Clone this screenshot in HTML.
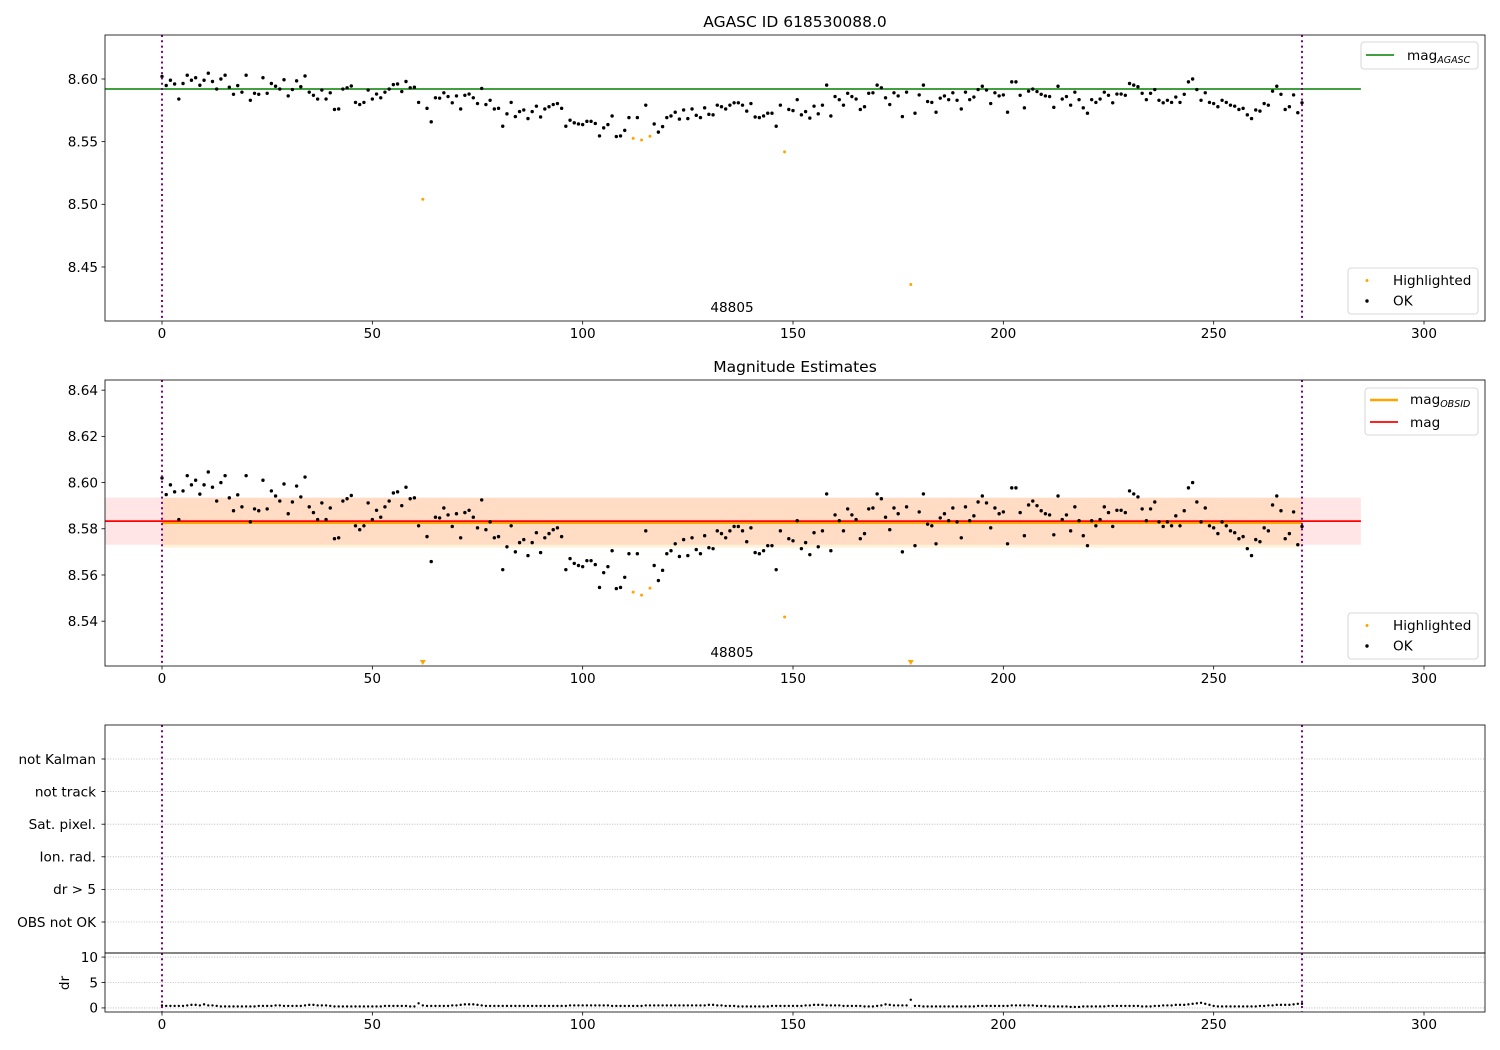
<!DOCTYPE html>
<html><head><meta charset="utf-8"><title>AGASC 618530088 magnitude estimates</title>
<style>
html,body{margin:0;padding:0;background:#fff;}
svg{display:block;font-family:"DejaVu Sans","Liberation Sans",sans-serif;}
</style></head>
<body>
<svg id="fig" width="1500" height="1050" viewBox="0 0 1500 1050" xmlns="http://www.w3.org/2000/svg"></svg>
<script>
const mags = [8.602,8.5948,8.599,8.596,8.584,8.5964,8.603,8.599,8.601,8.595,
8.599,8.6046,8.598,8.592,8.600,8.603,8.5934,8.5878,8.5947,8.5895,
8.603,8.583,8.5886,8.5878,8.601,8.5886,8.5964,8.5942,8.592,8.5994,
8.5865,8.5916,8.5985,8.5938,8.6024,8.5895,8.587,8.584,8.5912,8.584,
8.589,8.5757,8.5761,8.592,8.593,8.5944,8.5813,8.5796,8.5813,8.5912,
8.584,8.588,8.585,8.5895,8.592,8.5955,8.596,8.590,8.598,8.593,
8.5934,8.5813,8.504,8.5766,8.5658,8.585,8.5847,8.589,8.586,8.581,
8.5865,8.5761,8.587,8.588,8.585,8.5804,8.5925,8.5796,8.583,8.5761,
8.5766,8.5623,8.5722,8.5813,8.570,8.574,8.5753,8.5684,8.574,8.5783,
8.5697,8.5761,8.5779,8.5796,8.5804,8.5766,8.5623,8.5671,8.565,8.5641,
8.5636,8.5662,8.5662,8.5645,8.5546,8.561,8.5636,8.5705,8.5541,8.5546,
8.559,8.5692,8.5526,8.5692,8.5513,8.5791,8.5543,8.5641,8.5576,8.562,
8.5692,8.5705,8.5735,8.568,8.5753,8.5684,8.5761,8.571,8.5692,8.577,
8.5718,8.5714,8.5791,8.5779,8.5761,8.5791,8.581,8.581,8.5791,8.5744,
8.5804,8.5697,8.5692,8.5705,8.5727,8.5727,8.5623,8.5791,8.5418,8.5757,
8.5748,8.5835,8.5714,8.574,8.5688,8.5783,8.5722,8.5791,8.5951,8.5705,
8.586,8.5835,8.5791,8.5886,8.586,8.584,8.5757,8.5779,8.5886,8.589,
8.5951,8.593,8.585,8.5796,8.589,8.5865,8.570,8.5895,8.436,8.5727,
8.5873,8.5951,8.582,8.5813,8.5735,8.5847,8.5865,8.5835,8.589,8.583,
8.5761,8.5895,8.5835,8.5856,8.5916,8.5942,8.5912,8.5804,8.589,8.5865,
8.5873,8.5735,8.5977,8.5977,8.587,8.577,8.5903,8.592,8.590,8.5878,
8.5865,8.586,8.5774,8.5942,8.584,8.586,8.5791,8.5895,8.5835,8.577,
8.5727,8.5835,8.5813,8.584,8.5895,8.587,8.581,8.588,8.588,8.587,
8.5964,8.5951,8.5938,8.5886,8.5835,8.5886,8.5916,8.583,8.581,8.583,
8.5813,8.5856,8.5813,8.5878,8.5977,8.600,8.5916,8.583,8.589,8.5813,
8.5804,8.5779,8.583,8.5813,8.5791,8.5783,8.5757,8.5766,8.5714,8.5684,
8.5753,8.5744,8.5804,8.5791,8.5903,8.5942,8.5878,8.5757,8.5779,8.5873,
8.5731,8.581];
const highlightedIdx = [62,112,114,116,148,178];
const drVals = [0.5,0.4,0.4,0.4,0.4,0.4,0.5,0.6,0.6,0.5,
0.7,0.5,0.5,0.4,0.3,0.3,0.3,0.3,0.3,0.3,
0.3,0.3,0.3,0.4,0.4,0.4,0.4,0.5,0.5,0.4,
0.4,0.4,0.4,0.4,0.5,0.6,0.6,0.5,0.5,0.5,
0.4,0.3,0.3,0.3,0.3,0.3,0.3,0.3,0.3,0.3,
0.3,0.3,0.3,0.4,0.4,0.4,0.4,0.4,0.4,0.3,
0.3,0.9,0.5,0.4,0.4,0.4,0.4,0.4,0.4,0.5,
0.5,0.6,0.7,0.7,0.7,0.6,0.5,0.4,0.4,0.4,
0.4,0.4,0.4,0.4,0.4,0.4,0.4,0.4,0.4,0.4,
0.4,0.4,0.4,0.4,0.4,0.4,0.4,0.5,0.5,0.5,
0.5,0.5,0.5,0.5,0.5,0.5,0.5,0.4,0.4,0.4,
0.4,0.4,0.4,0.4,0.4,0.5,0.5,0.5,0.5,0.5,
0.5,0.5,0.5,0.5,0.5,0.5,0.5,0.5,0.5,0.5,
0.6,0.6,0.5,0.5,0.4,0.4,0.4,0.3,0.3,0.3,
0.3,0.3,0.3,0.3,0.3,0.4,0.4,0.4,0.4,0.4,
0.4,0.4,0.4,0.5,0.5,0.6,0.6,0.6,0.5,0.5,
0.5,0.5,0.4,0.4,0.4,0.4,0.4,0.3,0.3,0.3,
0.4,0.5,0.7,0.6,0.5,0.5,0.5,0.5,1.6,0.4,
0.4,0.3,0.3,0.3,0.3,0.3,0.3,0.3,0.3,0.3,
0.3,0.3,0.3,0.3,0.4,0.4,0.4,0.4,0.4,0.4,
0.4,0.4,0.5,0.5,0.5,0.5,0.5,0.5,0.4,0.4,
0.4,0.3,0.3,0.3,0.3,0.3,0.2,0.2,0.2,0.3,
0.3,0.3,0.3,0.3,0.3,0.4,0.4,0.4,0.4,0.4,
0.4,0.4,0.4,0.3,0.3,0.3,0.4,0.4,0.5,0.5,
0.5,0.6,0.6,0.6,0.7,0.8,0.9,1.0,0.8,0.6,
0.4,0.3,0.3,0.3,0.3,0.3,0.3,0.3,0.3,0.3,
0.3,0.4,0.4,0.5,0.5,0.6,0.6,0.6,0.6,0.7,
0.8,0.8];
const xTicks = [0,50,100,150,200,250,300];
const y1Ticks = [8.45,8.50,8.55,8.60];
const y2Ticks = [8.54,8.56,8.58,8.60,8.62,8.64];
const flagLabels = ["OBS not OK","dr > 5","Ion. rad.","Sat. pixel.","not track","not Kalman"];
const drTicks = [0,5,10];
const magAgasc = [8.592];
const magObsid = [8.5826];
const magMean = [8.5833];
const magBandLo = [8.5731];
const magBandHi = [8.5935];
const obsBandLo = [8.5718];
const obsBandHi = [8.5934];
const obsLimits = [0,271];
const lineExtent = [285];
const obsidLabel = "48805";

const NS = "http://www.w3.org/2000/svg";
const svg = document.getElementById('fig');
const FS = 13.6;
function el(tag, attrs, parent, text){
  const e = document.createElementNS(NS, tag);
  for (const k in attrs) e.setAttribute(k, attrs[k]);
  if (text !== undefined) e.textContent = text;
  (parent||svg).appendChild(e);
  return e;
}
const X0 = 105, X1 = 1485, XMIN = -13.55, XMAX = 314.5;
const sx = v => X0 + (v - XMIN) / (XMAX - XMIN) * (X1 - X0);
function mkY(top, bot, vmin, vmax){ return v => bot - (v - vmin) / (vmax - vmin) * (bot - top); }
const P1 = {top:35, bot:321, y: mkY(35,321,8.4069,8.6351)};
const P2 = {top:380, bot:666, y: mkY(380,666,8.5206,8.6444)};
const P3 = {top:725, bot:953};
const P4 = {top:953, bot:1012, y: mkY(953,1012,-0.8,10.8)};
const fmt2 = v => v.toFixed(2);

function xAxis(p, g){
  xTicks.forEach(t=>{
    const x = sx(t);
    const tk = el('line',{x1:x,x2:x,y1:p.bot,y2:p.bot+3.5,stroke:'#000','stroke-width':0.8},g);
    
    
    const lb = el('text',{x:x,y:p.bot+17,'text-anchor':'middle','font-size':FS},g,String(t));
    
    
  });
}
function yAxis(p, ticks, f, g, grid){
  ticks.forEach(t=>{
    const y = p.y(t);
    if (grid){
      const gl = el('line',{x1:X0,x2:X1,y1:y,y2:y,stroke:'#b0b0b0','stroke-width':0.8,'stroke-dasharray':'1,1.6'},g);
      
      
    }
    const tk = el('line',{x1:X0-3.5,x2:X0,y1:y,y2:y,stroke:'#000','stroke-width':0.8},g);
    
    
    const lb = el('text',{x:X0-7,y:y+4.8,'text-anchor':'end','font-size':FS},g,f(t));
    
    
  });
}
function frame(p, g){
  const r = el('rect',{x:X0,y:p.top,width:X1-X0,height:p.bot-p.top,fill:'none',stroke:'#000','stroke-width':0.8},g);
  
  
}
function vlines(p, g){
  obsLimits.forEach(v=>{
    const l = el('line',{x1:sx(v),x2:sx(v),y1:p.top,y2:p.bot,stroke:'#800080','stroke-width':2,'stroke-dasharray':'2,3.3'},g);
    
    
  });
}
function clip(id, p){
  const c = el('clipPath',{id:id});
  el('rect',{x:X0,y:p.top,width:X1-X0,height:p.bot-p.top},c);
}
function points(p, g, clipId){
  const cg = el('g',{'clip-path':'url(#'+clipId+')'},g);
  mags.forEach((v,i)=>{
    if (highlightedIdx.indexOf(i) >= 0) return;
    const c = el('circle',{cx:sx(i),cy:p.y(v),r:1.7,fill:'#000'},cg);
    
    
  });
  highlightedIdx.forEach(i=>{
    const v = mags[i];
    const y = p.y(v);
    if (y > p.bot){
      const x = sx(i), b = p.bot - 1;
      const tr = el('polygon',{points:(x-3)+','+(b-5)+' '+(x+3)+','+(b-5)+' '+x+','+b,fill:'orange'},g);
      
      
    } else {
      const c = el('circle',{cx:sx(i),cy:y,r:1.5,fill:'orange'},cg);
      
      
    }
  });
}
function pointLegend(x, y, g){
  const lg = el('g',{},g);
  
  
  el('rect',{x:x,y:y,width:130,height:46,rx:3,fill:'#fff','fill-opacity':0.8,stroke:'#ccc','stroke-width':0.8},lg);
  const e1 = el('g',{},lg);
  
  
  el('circle',{cx:x+19,cy:y+12.5,r:1.5,fill:'orange'},e1);
  el('text',{x:x+45,y:y+17,'font-size':FS},e1,'Highlighted');
  const e2 = el('g',{},lg);
  
  
  el('circle',{cx:x+19,cy:y+33,r:1.7,fill:'#000'},e2);
  el('text',{x:x+45,y:y+37.5,'font-size':FS},e2,'OK');
}

// ---------- Panel 1 ----------
const g1 = el('g',{});  
clip('c1',P1);
const t1 = el('text',{x:795,y:27,'text-anchor':'middle','font-size':15.5},g1,'AGASC ID 618530088.0');
 
const gl1 = el('line',{x1:sx(XMIN),x2:sx(lineExtent[0]),y1:P1.y(magAgasc[0]),y2:P1.y(magAgasc[0]),stroke:'green','stroke-width':1.5},g1);
 
points(P1,g1,'c1');
vlines(P1,g1);
const ob1 = el('text',{x:732,y:312,'text-anchor':'middle','font-size':FS},g1,obsidLabel);
 
frame(P1,g1); xAxis(P1,g1); yAxis(P1,y1Ticks,fmt2,g1,false);
(function(){
  const lg = el('g',{},g1);  
  el('rect',{x:1361,y:42,width:117,height:27,rx:3,fill:'#fff','fill-opacity':0.8,stroke:'#ccc','stroke-width':0.8},lg);
  el('line',{x1:1366,x2:1394,y1:55,y2:55,stroke:'green','stroke-width':1.5},lg);
  const t = el('text',{x:1407,y:60,'font-size':FS},lg,'mag');
  el('tspan',{'font-size':9.5,'font-style':'italic',dy:3},t,'AGASC');
})();
pointLegend(1348,268,g1);

// ---------- Panel 2 ----------
const g2 = el('g',{});  
clip('c2',P2);
const t2 = el('text',{x:795,y:372,'text-anchor':'middle','font-size':15.5},g2,'Magnitude Estimates');
 
const cg2 = el('g',{'clip-path':'url(#c2)'},g2);
const rb = el('rect',{x:sx(XMIN),y:P2.y(magBandHi[0]),width:sx(lineExtent[0])-sx(XMIN),height:P2.y(magBandLo[0])-P2.y(magBandHi[0]),fill:'red','fill-opacity':0.1},cg2);
 
const obb = el('rect',{x:sx(obsLimits[0]),y:P2.y(obsBandHi[0]),width:sx(obsLimits[1])-sx(obsLimits[0]),height:P2.y(obsBandLo[0])-P2.y(obsBandHi[0]),fill:'orange','fill-opacity':0.15},cg2);
 
const ol = el('line',{x1:sx(obsLimits[0]),x2:sx(obsLimits[1]),y1:P2.y(magObsid[0]),y2:P2.y(magObsid[0]),stroke:'orange','stroke-width':2.5},cg2);
 
const rl = el('line',{x1:sx(XMIN),x2:sx(lineExtent[0]),y1:P2.y(magMean[0]),y2:P2.y(magMean[0]),stroke:'red','stroke-width':1.8},cg2);
 
points(P2,g2,'c2');
vlines(P2,g2);
const ob2 = el('text',{x:732,y:657,'text-anchor':'middle','font-size':FS},g2,obsidLabel);
 
frame(P2,g2); xAxis(P2,g2); yAxis(P2,y2Ticks,fmt2,g2,false);
(function(){
  const lg = el('g',{},g2);  
  el('rect',{x:1365,y:388,width:113,height:47,rx:3,fill:'#fff','fill-opacity':0.8,stroke:'#ccc','stroke-width':0.8},lg);
  el('line',{x1:1370,x2:1398,y1:400,y2:400,stroke:'orange','stroke-width':2.5},lg);
  const t = el('text',{x:1410,y:404,'font-size':FS},lg,'mag');
  el('tspan',{'font-size':9.5,'font-style':'italic',dy:3},t,'OBSID');
  el('line',{x1:1370,x2:1398,y1:422,y2:422,stroke:'red','stroke-width':1.8},lg);
  el('text',{x:1410,y:427,'font-size':FS},lg,'mag');
})();
pointLegend(1348,613,g2);

// ---------- Panel 3: flags ----------
const g3 = el('g',{});  
const fy = i => 922 - i * 32.6;
flagLabels.forEach((lab,i)=>{
  const y = fy(i);
  const gl = el('line',{x1:X0,x2:X1,y1:y,y2:y,stroke:'#b0b0b0','stroke-width':0.8,'stroke-dasharray':'1,1.6'},g3);
   
  const tk = el('line',{x1:X0-3.5,x2:X0,y1:y,y2:y,stroke:'#000','stroke-width':0.8},g3);
   
  const t = el('text',{x:X0-9,y:y+4.8,'text-anchor':'end','font-size':FS},g3,lab);
   
});
vlines(P3,g3);
frame(P3,g3);

// ---------- Panel 4: dr ----------
const g4 = el('g',{});  
clip('c4',P4);
yAxis(P4,drTicks,v=>String(v),g4,true);
const cg4 = el('g',{'clip-path':'url(#c4)'},g4);
drVals.forEach((v,i)=>{
  const c = el('circle',{cx:sx(i),cy:P4.y(v),r:1.2,fill:'#000'},cg4);
   
});
vlines(P4,g4);
frame(P4,g4); xAxis(P4,g4);
const dl = el('text',{x:0,y:0,'text-anchor':'middle','font-size':FS,transform:'translate(69,983) rotate(-90)'},g4,'dr');
 
</script>
</body></html>
